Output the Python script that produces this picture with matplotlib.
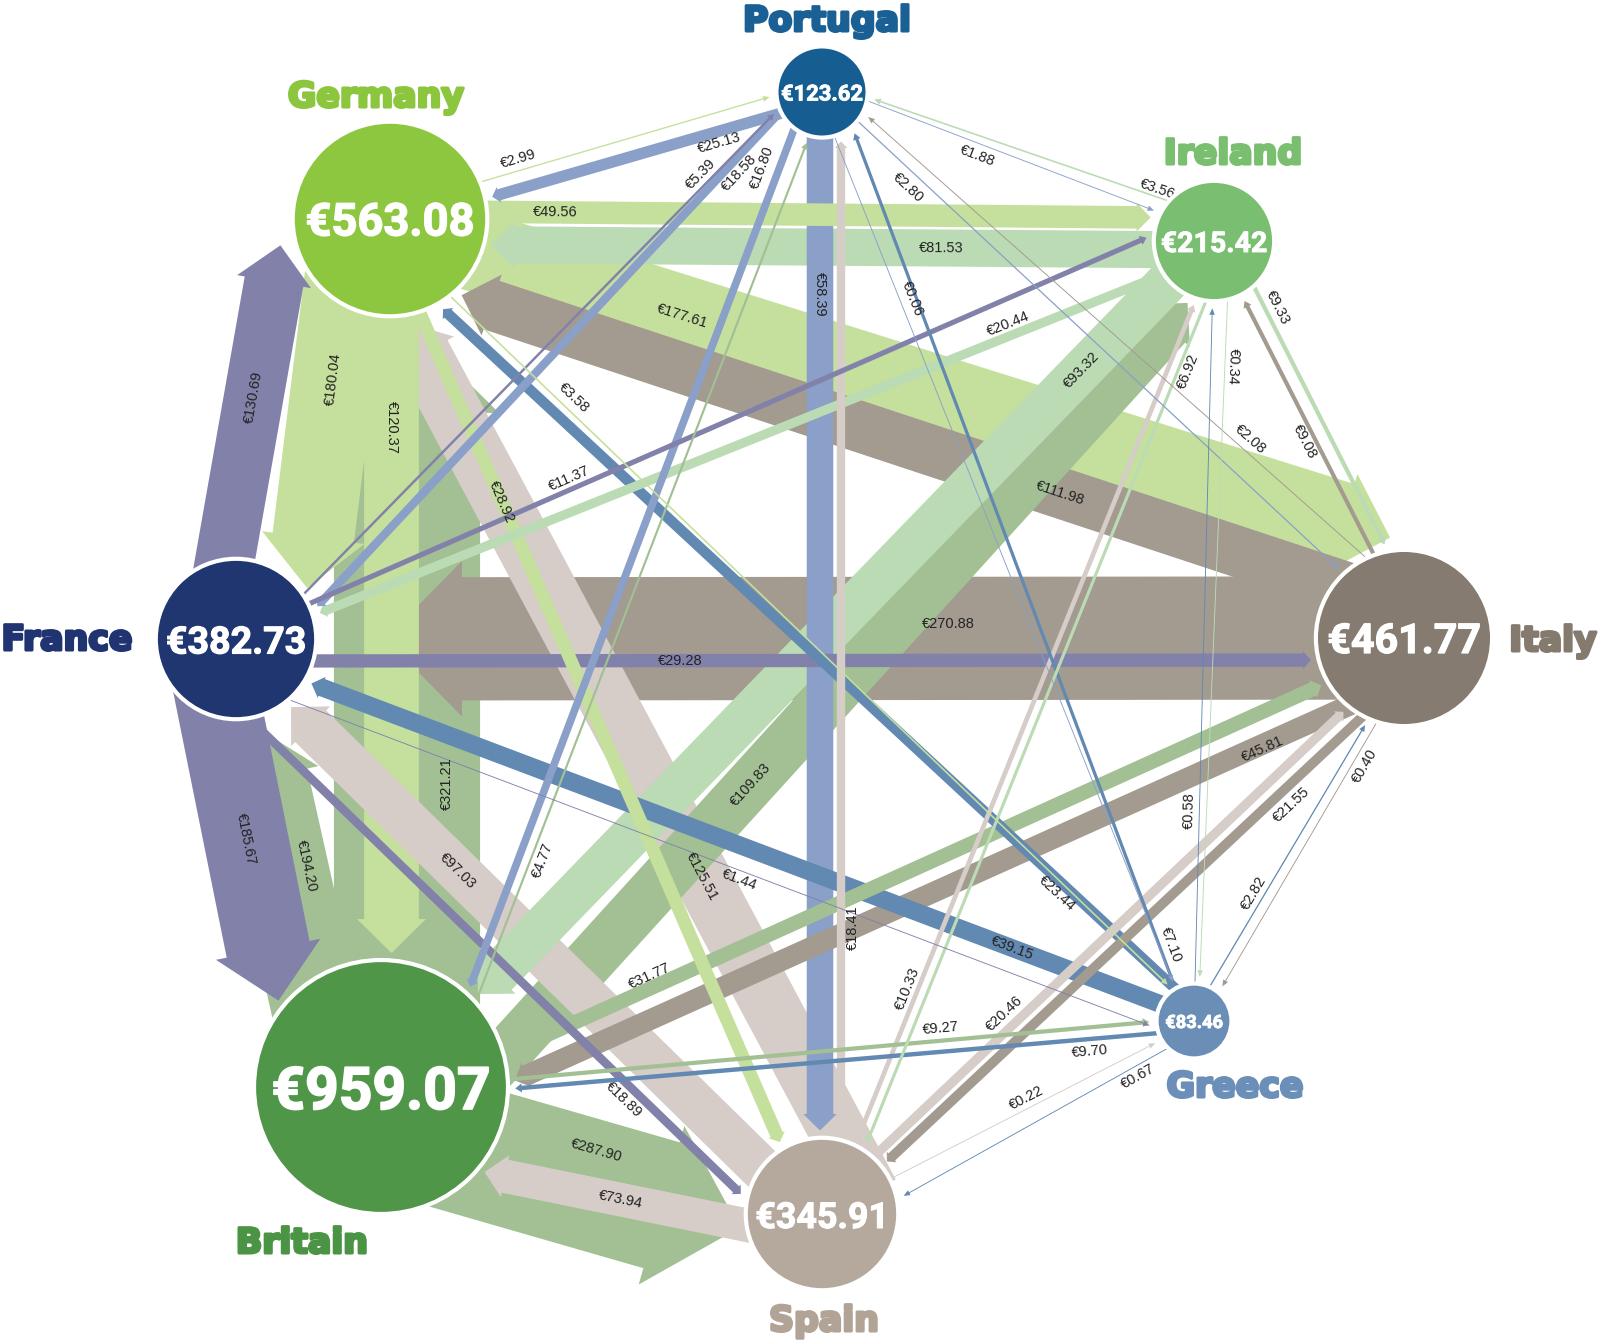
import numpy as np
import matplotlib
matplotlib.use("Agg")
import matplotlib.pyplot as plt
from matplotlib.patches import Polygon, Circle
from matplotlib import font_manager, patheffects

# ---------------- data ----------------
countries = ["Portugal", "Ireland", "Italy", "Greece", "Spain", "Britain", "France", "Germany"]
country_totals = [123.62, 215.42, 461.77, 83.46, 345.91, 959.07, 382.73, 563.08]

flow_from = ["Germany", "Portugal", "Germany", "Ireland", "Germany", "Italy", "Germany", "Britain",
             "Germany", "France", "Germany", "Spain", "Germany", "Greece",
             "Portugal", "Ireland", "Portugal", "Italy", "Portugal", "Greece", "Portugal", "Spain",
             "Portugal", "Britain", "Portugal", "France",
             "Ireland", "Italy", "Ireland", "Greece", "Ireland", "Spain", "Ireland", "Britain",
             "Ireland", "France",
             "Italy", "Greece", "Italy", "Spain", "Italy", "Britain", "Italy", "France",
             "Greece", "Spain", "Greece", "Britain", "Greece", "France",
             "Spain", "Britain", "Spain", "France", "France", "Britain"]
flow_to = ["Portugal", "Germany", "Ireland", "Germany", "Italy", "Germany", "Britain", "Germany",
           "France", "Germany", "Spain", "Germany", "Greece", "Germany",
           "Ireland", "Portugal", "Italy", "Portugal", "Greece", "Portugal", "Spain", "Portugal",
           "Britain", "Portugal", "France", "Portugal",
           "Italy", "Ireland", "Greece", "Ireland", "Spain", "Ireland", "Britain", "Ireland",
           "France", "Ireland",
           "Greece", "Italy", "Spain", "Italy", "Britain", "Italy", "France", "Italy",
           "Spain", "Greece", "Britain", "Greece", "France", "Greece",
           "Britain", "Spain", "France", "Spain", "Britain", "France"]
flow_value = [2.99, 25.13, 49.56, 81.53, 177.61, 111.98, 120.37, 321.21,
              180.04, 130.69, 28.92, 125.51, 3.58, 23.44,
              1.88, 3.56, 2.80, 2.08, 0.06, 7.10, 58.39, 18.41,
              16.80, 4.77, 18.58, 5.39,
              9.33, 9.08, 0.34, 0.58, 6.92, 10.33, 93.32, 109.83,
              20.44, 11.37,
              0.40, 2.82, 21.55, 20.46, 45.81, 31.77, 270.88, 29.28,
              0.67, 0.22, 9.70, 9.27, 39.15, 1.44,
              73.94, 287.90, 97.03, 18.89, 185.67, 194.20]

# ---------------- layout & style ----------------
W, H = 1600, 1340
node_xy = {"Portugal": (822, 92), "Ireland": (1214, 241), "Italy": (1404, 638),
           "Greece": (1194, 1021), "Spain": (822, 1214), "Britain": (381, 1087),
           "France": (236, 639), "Germany": (390, 219)}
name_xy = {"Portugal": (827, 31), "Germany": (376, 107), "Ireland": (1233, 164),
           "Italy": (1553, 651), "Greece": (1235, 1097), "Spain": (824, 1331),
           "Britain": (302, 1253), "France": (67, 650)}
node_color = {"Portugal": "#165e92", "Ireland": "#7abe71", "Italy": "#867b70",
              "Greece": "#6a8eb6", "Spain": "#b5a89d", "Britain": "#509648",
              "France": "#203670", "Germany": "#8dc63f"}
name_color = {"Portugal": "#1b6095", "Ireland": "#7abf6f", "Italy": "#857a6e",
              "Greece": "#6b8fb8", "Spain": "#b1a497", "Britain": "#4c9445",
              "France": "#1f3470", "Germany": "#8cc63e"}
arrow_color = {"Portugal": "#8aa0c8", "Ireland": "#bbdbb4", "Italy": "#a39a90",
               "Greece": "#6289b2", "Spain": "#d6ccc8", "Britain": "#a2c093",
               "France": "#8281aa", "Germany": "#c5e09c"}

# per-arrow lateral offsets (start, end) and label placement (fraction, side shift), in px
edge_layout = {
    ("Germany", "Portugal"): (-10, -10, 0.31, -11), ("Portugal", "Germany"): (-9, -7, 0.25, -11),
    ("Germany", "Ireland"): (-8, -23, 0.20, 0), ("Ireland", "Germany"): (-9, -25, 0.33, 0),
    ("Germany", "Italy"): (5, -92, 0.28, 0), ("Italy", "Germany"): (30, -50, 0.34, 0),
    ("Germany", "Britain"): (-1.5, -10.5, 0.24, 0), ("Britain", "Germany"): (26, 17, 0.35, 40),
    ("Germany", "France"): (38, -66, 0.38, 0), ("France", "Germany"): (-25, -105, 0.52, 0),
    ("Germany", "Spain"): (10, 10, 0.28, 0), ("Spain", "Germany"): (53, -35, 0.33, 0),
    ("Germany", "Greece"): (14, -8, 0.226, -12), ("Greece", "Germany"): (11, -30, 0.165, -11),
    ("Portugal", "Ireland"): (-8, -7, 0.40, 12), ("Ireland", "Portugal"): (23, 10, 0.17, 8),
    ("Portugal", "Italy"): (-3, -6, 0.16, 14), ("Italy", "Portugal"): (35, 12, 0.31, 12),
    ("Portugal", "Greece"): (5, 5, 0.225, -12), ("Greece", "Portugal"): (-6, 16, 0.08, 11),
    ("Portugal", "Spain"): (2, 2, 0.18, 0), ("Spain", "Portugal"): (19, 19, 0.255, 12),
    ("Portugal", "Britain"): (13, -48, 0.085, 16), ("Britain", "Portugal"): (58, 4, 0.25, 12),
    ("Portugal", "France"): (17, -37, 0.145, -12), ("France", "Portugal"): (17, -19, 0.82, -10),
    ("Ireland", "Italy"): (-15, -25, 0.20, -12), ("Italy", "Ireland"): (11, 0, 0.50, -10),
    ("Ireland", "Greece"): (-16, -4, 0.16, -8), ("Greece", "Ireland"): (0, 0, 0.27, -10),
    ("Ireland", "Spain"): (-15, -15, 0.125, -10), ("Spain", "Ireland"): (5, 5, 0.23, -10),
    ("Ireland", "Britain"): (5, -5, 0.156, 0), ("Britain", "Ireland"): (70, 22, 0.40, 0),
    ("Ireland", "France"): (-12, -7, 0.21, 12), ("France", "Ireland"): (-3, -30, 0.35, -10),
    ("Italy", "Greece"): (-19, -7, 0.30, -12), ("Greece", "Italy"): (-4, 11, 0.32, -10),
    ("Italy", "Spain"): (-29, -6, 0.24, -16), ("Spain", "Italy"): (-6, 12, 0.33, -14),
    ("Italy", "Britain"): (-39, -49, 0.156, -4), ("Britain", "Italy"): (21, 9, 0.26, -12),
    ("Italy", "France"): (0, 0, 0.39, 14), ("France", "Italy"): (22, 22, 0.38, 0),
    ("Greece", "Spain"): (-11, -24, 0.18, -10), ("Spain", "Greece"): (0, 2, 0.56, -10),
    ("Greece", "Britain"): (-9, -13, 0.13, -12), ("Britain", "Greece"): (4, -3, 0.69, -12),
    ("Greece", "France"): (4, -15, 0.19, 0), ("France", "Greece"): (38, 20, 0.54, 9),
    ("Spain", "Britain"): (-26, -63, 0.43, 0), ("Britain", "Spain"): (36, 36, 0.49, -35),
    ("Spain", "France"): (-10, -10, 0.61, 0), ("France", "Spain"): (48, 42, 0.73, 14),
    ("France", "Britain"): (30, 84, 0.41, 0), ("Britain", "France"): (-47, -3, 0.50, 22),
}
end_gap_extra = {("Italy", "France"): 62}

PX_PER_EURO = 0.455      # band width scale
R_SCALE = 4.1            # circle radius = R_SCALE * sqrt(total)
GAP = 7


def has_font(name, weight="normal"):
    try:
        font_manager.findfont(font_manager.FontProperties(family=name, weight=weight),
                              fallback_to_default=False)
        return True
    except Exception:
        return False


label_family = ["Liberation Sans", "DejaVu Sans"] if has_font("Liberation Sans") else ["DejaVu Sans"]
if has_font("Liberation Sans Narrow", "bold"):
    value_family, value_k = ["Liberation Sans Narrow", "DejaVu Sans"], 0.40
elif has_font("Roboto", "bold"):
    value_family, value_k = ["Roboto", "DejaVu Sans"], 0.325
else:
    value_family, value_k = ["DejaVu Sans"], 0.27

totals = dict(zip(countries, country_totals))
radius = {c: R_SCALE * np.sqrt(v) for c, v in totals.items()}

fig = plt.figure(figsize=(W / 100, H / 100), dpi=100, facecolor="white")
ax = fig.add_axes([0, 0, 1, 1])
ax.set_xlim(0, W)
ax.set_ylim(H, 0)
ax.axis("off")


def head_dims(w):
    return w / 2 + max(0.13 * w, 2.3), max(0.62 * w, 6.5)


def build_arrow(S0, E0, C, R, w):
    v = E0 - S0
    L = np.hypot(*v)
    d = v / L
    nd = np.array([-d[1], d[0]])
    hw, hl = head_dims(w)
    s = np.linspace(0, 1, 30)
    parts = []
    for sg in (1, -1):
        parts.append(np.stack([-hl * s, sg * hw * s], 1))
        back = np.linspace(hl, hl + 3 * max(w, 10), 30)
        parts.append(np.stack([-back, sg * np.full_like(back, w / 2)], 1))
    parts.append(np.stack([-hl * np.ones_like(s), hw * (2 * s - 1)], 1))
    tmpl = np.concatenate(parts)
    best = L
    for t in np.arange(0, L, 0.5):
        tip = S0 + t * d
        P = tip + tmpl[:, :1] * d + tmpl[:, 1:2] * nd
        if np.min(np.hypot(P[:, 0] - C[0], P[:, 1] - C[1])) < R:
            best = t - 0.5
            break
    tip = S0 + best * d
    base = tip - hl * d
    poly = [S0 + w / 2 * nd, base + w / 2 * nd, base + hw * nd, tip,
            base - hw * nd, base - w / 2 * nd, S0 - w / 2 * nd]
    return np.array(poly), d, nd, L


order = np.argsort(-np.array(flow_value), kind="stable")
for rank, i in enumerate(order):
    a, b, val = flow_from[i], flow_to[i], flow_value[i]
    A = np.array(node_xy[a], float)
    B = np.array(node_xy[b], float)
    u = (B - A) / np.hypot(*(B - A))
    n = np.array([-u[1], u[0]])
    offS, offE, lt, lrel = edge_layout[(a, b)]
    S0 = A + offS * n
    E0 = B + offE * n
    w = max(val * PX_PER_EURO, 0.9)
    R = radius[b] + GAP + end_gap_extra.get((a, b), 0)
    poly, d, nd, L = build_arrow(S0, E0, B, R, w)
    ax.add_patch(Polygon(poly, closed=True, facecolor=arrow_color[a], edgecolor="none",
                         zorder=10 + rank * 0.1))
    # label
    pos = S0 + lt * L * d + lrel * nd
    raw = np.degrees(np.arctan2(-d[1], d[0]))
    ang = raw
    if ang > 90:
        ang -= 180
    elif ang <= -90:
        ang += 180
    if abs(ang) > 86:
        ang = raw
    ax.text(pos[0], pos[1], "€%.2f" % val, rotation=ang, rotation_mode="anchor",
            ha="center", va="center", fontsize=10.5, color="#222222",
            family=label_family, zorder=40)

# nodes
for c in countries:
    x, y = node_xy[c]
    r = radius[c]
    ax.add_patch(Circle((x, y), r, facecolor=node_color[c], edgecolor="white",
                        linewidth=3, zorder=50))
    fs = value_k * r + 1.0
    ax.text(x, y, "€%.2f" % totals[c], ha="center", va="center_baseline", fontsize=fs,
            fontweight="bold", color="white", family=value_family, zorder=51,
            path_effects=[patheffects.withStroke(linewidth=max(0.6, fs * 0.03),
                                                 foreground="white")])
    nx, ny = name_xy[c]
    ax.text(nx, ny, c, ha="center", va="baseline", fontsize=25, fontweight="bold",
            color=name_color[c], family=["DejaVu Sans"], zorder=52,
            path_effects=[patheffects.withStroke(linewidth=2.2, foreground=name_color[c])])

fig.savefig("out.png", dpi=100, facecolor="white")
